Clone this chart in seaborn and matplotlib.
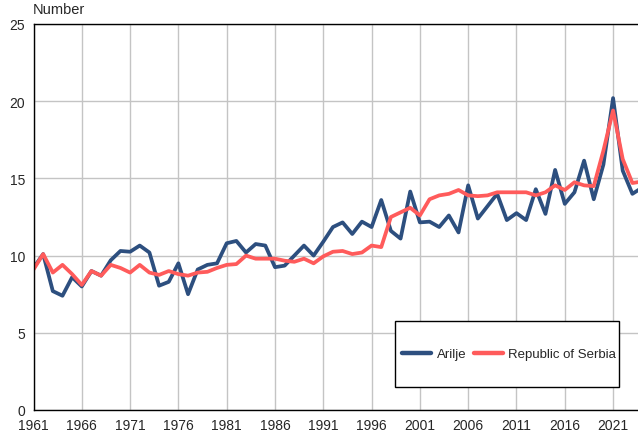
import matplotlib
matplotlib.use("Agg")
import matplotlib.pyplot as plt
from matplotlib.patches import Rectangle
import pandas as pd
import seaborn as sns

years = list(range(1961, 2025))

arilje = [9.2, 10.1, 7.7, 7.4, 8.6, 8.0, 9.0, 8.7, 9.7, 10.3,
          10.25, 10.65, 10.2, 8.05, 8.3, 9.5, 7.5, 9.1, 9.4, 9.5,
          10.8, 10.95, 10.2, 10.75, 10.65, 9.25, 9.35, 10.0, 10.65, 10.0,
          10.9, 11.85, 12.15, 11.4, 12.2, 11.85, 13.6, 11.6, 11.1, 14.15,
          12.15, 12.2, 11.85, 12.6, 11.5, 14.55, 12.4, 13.2, 14.0, 12.3,
          12.75, 12.3, 14.3, 12.7, 15.55, 13.35, 14.1, 16.15, 13.65, 15.9,
          20.2, 15.5, 14.0, 14.4]

serbia = [9.1, 10.1, 8.9, 9.4, 8.8, 8.1, 9.0, 8.7, 9.4, 9.2,
          8.9, 9.4, 8.9, 8.75, 9.0, 8.8, 8.7, 8.9, 8.95, 9.2,
          9.4, 9.45, 10.0, 9.8, 9.8, 9.8, 9.67, 9.6, 9.8, 9.5,
          9.95, 10.25, 10.3, 10.1, 10.2, 10.65, 10.55, 12.5, 12.8, 13.1,
          12.6, 13.65, 13.9, 14.0, 14.25, 13.9, 13.85, 13.9, 14.1, 14.1,
          14.1, 14.1, 13.9, 14.1, 14.55, 14.25, 14.75, 14.55, 14.5, 16.8,
          19.4, 16.25, 14.7, 14.8]

df = pd.DataFrame({
    "Year": years * 2,
    "Value": arilje + serbia,
    "Area": ["Arilje"] * len(years) + ["Republic of Serbia"] * len(years),
})

sns.set_style("white")
plt.rcParams["font.family"] = ["Liberation Sans", "DejaVu Sans"]

W, H = 638, 435
fig = plt.figure(figsize=(W / 100, H / 100), dpi=100)
ax = fig.add_axes([33.5 / W, 1 - 411 / H, 1 - 33.5 / W, 386 / H])

sns.lineplot(data=df, x="Year", y="Value", hue="Area",
             palette={"Arilje": "#2d4f7f", "Republic of Serbia": "#ff5b5b"},
             linewidth=2.7, ax=ax)

ax.set_xlim(1961, 2023.58)
ax.set_ylim(0, 25)
ax.set_xticks(range(1961, 2022, 5))
ax.set_yticks(range(0, 26, 5))
ax.tick_params(axis="both", labelsize=10, length=0, pad=6)
ax.grid(True, color="#c4c4c4", linewidth=1)
ax.set_xlabel("")
ax.set_ylabel("")
for side in ["left", "bottom", "top"]:
    ax.spines[side].set_color("black")
    ax.spines[side].set_linewidth(1)
ax.spines["right"].set_visible(False)

fig.text(33 / W, 1 - 10 / H, "Number", fontsize=10.5, va="center", ha="left")

# legend box drawn separately so the padding can match the reference
box = Rectangle((395 / W, 1 - 388 / H), 224 / W, 66 / H, transform=fig.transFigure,
                facecolor="white", edgecolor="black", linewidth=1,
                clip_on=False, zorder=4)
ax.add_patch(box)

leg = ax.legend(loc="center", bbox_to_anchor=(509 / W, 1 - 355 / H),
                bbox_transform=fig.transFigure, ncol=2, frameon=False,
                fontsize=9.5, handlelength=2.2, handletextpad=0.4,
                columnspacing=0.55, title=None)
leg.set_zorder(5)
for line in leg.get_lines():
    line.set_linewidth(3.2)

fig.savefig("out.png", dpi=100)
